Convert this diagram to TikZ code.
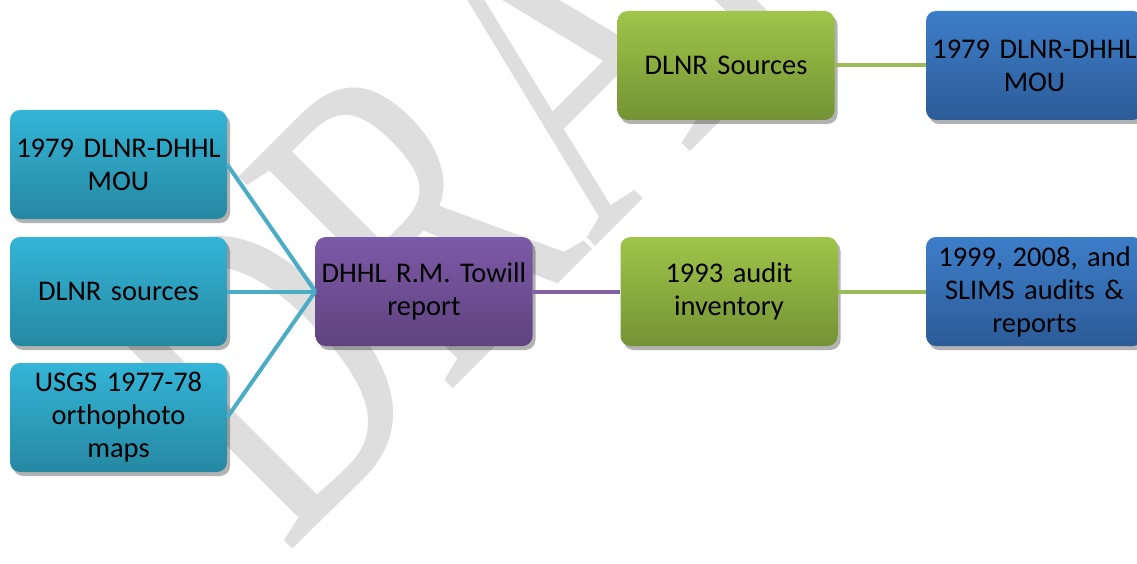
\documentclass[tikz,border=0pt]{standalone}
\usepackage{fontspec}
\setmainfont{Carlito}
\newfontfamily\wmfont[FakeStretch=0.68]{Liberation Serif}
\usetikzlibrary{shadows}

\definecolor{cyantop}{RGB}{51,181,215}
\definecolor{cyanbot}{RGB}{38,136,162}
\definecolor{purptop}{RGB}{125,89,167}
\definecolor{purpbot}{RGB}{95,67,127}
\definecolor{greentop}{RGB}{159,197,73}
\definecolor{greenbot}{RGB}{116,146,52}
\definecolor{bluetop}{RGB}{61,126,201}
\definecolor{bluebot}{RGB}{44,91,151}
\definecolor{cyanline}{RGB}{75,172,198}
\definecolor{purpline}{RGB}{128,100,162}
\definecolor{greenline}{RGB}{155,187,89}
\definecolor{wmgray}{RGB}{222,222,222}

\tikzset{
  box/.style={rounded corners=10pt, minimum width=217pt, minimum height=109pt,
    text width=212pt, align=center, inner sep=0pt,
    font=\fontsize{28.5}{33}\selectfont,
    drop shadow={shadow xshift=3pt, shadow yshift=-4pt, opacity=.3, fill=black}},
  cyanbox/.style={box, top color=cyantop, bottom color=cyanbot},
  purpbox/.style={box, top color=purptop, bottom color=purpbot},
  greenbox/.style={box, top color=greentop, bottom color=greenbot},
  bluebox/.style={box, top color=bluetop, bottom color=bluebot},
  link/.style={line width=4pt}
}

\begin{document}
\begin{tikzpicture}[x=1pt,y=-1pt]
\useasboundingbox (0,0) rectangle (1137,564);
\clip (0,0) rectangle (1137,564);

\coordinate (mou) at (118.5,164.5);
\coordinate (srcs) at (118.5,291.5);
\coordinate (usgs) at (118.5,417.5);
\coordinate (towill) at (424,291.5);
\coordinate (dlnr) at (726,65.5);
\coordinate (audit) at (729,291.5);
\coordinate (mou2) at (1034.5,65.5);
\coordinate (slims) at (1034.5,291.5);

% watermark
\node[wmgray, rotate=45, anchor=base west, inner sep=0pt,
  font=\wmfont\fontsize{460}{460}\selectfont] (wm) at (286,556) {DRAFT};

\node[cyanbox] (Mou) at (mou) {1979 DLNR-DHHL\\MOU};
\node[cyanbox] (Srcs) at (srcs) {DLNR sources};
\node[cyanbox] (Usgs) at (usgs) {USGS 1977-78\\orthophoto\\maps};
\node[purpbox] (Towill) at (towill) {DHHL R.M. Towill\\report};
\node[greenbox] (Dlnr) at (dlnr) {DLNR Sources};
\node[greenbox] (Audit) at (audit) {1993 audit\\inventory};
\node[bluebox] (Mou2) at (mou2) {1979 DLNR-DHHL\\MOU};
\node[bluebox] (Slims) at (slims) {1999, 2008, and\\SLIMS audits \&\\reports};

\draw[link, cyanline] (Mou.east) -- (Towill.west) ;
\draw[link, cyanline] (Srcs.east) -- (Towill.west) ;
\draw[link, cyanline] (Usgs.east) -- (Towill.west) ;
\draw[link, purpline] (Towill) -- (Audit) ;
\draw[link, greenline] (Dlnr) -- (Mou2) ;
\draw[link, greenline] (Audit) -- (Slims) ;

\end{tikzpicture}
\end{document}
